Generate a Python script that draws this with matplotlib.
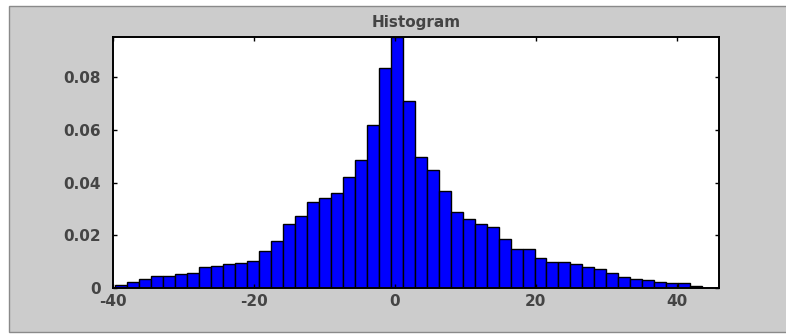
import matplotlib
matplotlib.use("Agg")
import matplotlib.pyplot as plt
from matplotlib.patches import Rectangle
import numpy as np

plt.rcParams['axes.unicode_minus'] = False

# bin range and histogram heights
x_min, x_max = -39.73, 43.63
left_heights = [0.0011, 0.0024, 0.0034, 0.0047, 0.0047, 0.0052, 0.0056, 0.0081,
                0.0085, 0.0090, 0.0094, 0.0104, 0.0140, 0.0178, 0.0242, 0.0274,
                0.0325, 0.0343, 0.0360, 0.0420, 0.0486, 0.0619, 0.0834]
right_heights = [0.0952, 0.0711, 0.0498, 0.0446, 0.0368, 0.0290, 0.0261, 0.0241,
                 0.0230, 0.0184, 0.0147, 0.0147, 0.0113, 0.0100, 0.0097, 0.0091,
                 0.0081, 0.0072, 0.0056, 0.0043, 0.0034, 0.0030, 0.0024, 0.0020,
                 0.0018, 0.0009]
heights = np.array(left_heights + right_heights)
edges = np.linspace(x_min, x_max, len(heights) + 1)

xticks = [-40, -20, 0, 20, 40]
yticks = [0, 0.02, 0.04, 0.06, 0.08]
ytick_labels = ['0', '0.02', '0.04', '0.06', '0.08']

fig = plt.figure(figsize=(7.86, 3.34), dpi=100, facecolor='white')

# grey panel behind the axes
fig.patches.append(Rectangle((0.0115, 0.006), 0.99, 0.976, transform=fig.transFigure,
                             facecolor='#cccccc', edgecolor='#8a8a8a', linewidth=1.0,
                             zorder=-5))

ax = fig.add_axes([0.1438, 0.1377, 0.771, 0.7515])
ax.set_zorder(2)
ax.set_facecolor('white')
ax.bar(edges[:-1], heights, width=np.diff(edges), align='edge',
       color='#0000ff', edgecolor='black', linewidth=1.0)

ax.set_xlim(-40, 46)
ax.set_ylim(0, heights.max())
ax.set_xticks(xticks)
ax.set_yticks(yticks)
ax.set_yticklabels(ytick_labels)

tfont = dict(family='DejaVu Sans', weight='bold', size=11, color='#444444')
for lab in ax.get_xticklabels() + ax.get_yticklabels():
    lab.set_fontfamily('DejaVu Sans')
    lab.set_fontweight('bold')
    lab.set_fontsize(11)
    lab.set_color('#444444')

ax.tick_params(direction='in', length=3, width=1, top=True, right=True,
               colors='black', labelcolor='#444444')
ax.tick_params(axis='y', pad=9)
ax.tick_params(axis='x', pad=4)

for s in ax.spines.values():
    s.set_linewidth(1.4)
    s.set_color('black')

ax.set_title('Histogram', pad=7, **tfont)

plt.savefig('out.png', dpi=100, facecolor='white')
